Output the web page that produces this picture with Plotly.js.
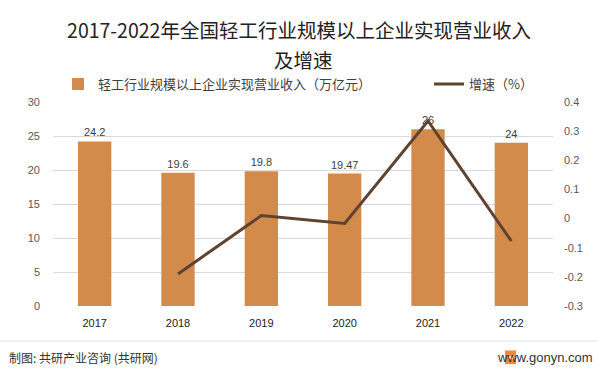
<!DOCTYPE html>
<html>
<head>
<meta charset="utf-8">
<script src="https://cdn.plot.ly/plotly-3.0.1.min.js"></script>
<style>html,body{margin:0;padding:0;background:#fff;}#chart{width:598px;height:373px;}</style>
</head>
<body>
<div id="chart"></div>
<script>
const years = ['2017', '2018', '2019', '2020', '2021', '2022'];
const revenue = [24.2, 19.6, 19.8, 19.47, 26, 24];
const revenueLabels = ['24.2', '19.6', '19.8', '19.47', '26', '24'];
const growth = [null, -0.19, 0.0102, -0.0167, 0.335, -0.077];
const leftTicks = [0, 5, 10, 15, 20, 25, 30];
const rightTicks = [-0.3, -0.2, -0.1, 0, 0.1, 0.2, 0.3, 0.4];
const rightTickText = ['-0.3', '-0.2', '-0.1', '0', '0.1', '0.2', '0.3', '0.4'];

const CJK = '"Noto Sans CJK SC", "Liberation Sans", sans-serif';
const NUM = '"Liberation Sans", "Noto Sans CJK SC", sans-serif';

const traces = [
  {
    type: 'bar', x: years, y: revenue, name: '轻工行业规模以上企业实现营业收入（万亿元）',
    marker: {color: '#D38B4C'}, width: 0.4, legend: 'legend',
    text: revenueLabels, textposition: 'outside', cliponaxis: false,
    textfont: {family: NUM, size: 11, color: '#404040'},
    hoverinfo: 'x+y'
  },
  {
    type: 'scatter', mode: 'lines', x: years, y: growth, yaxis: 'y2', name: '增速（%）',
    line: {color: '#5E4330', width: 3}, connectgaps: false, legend: 'legend2'
  }
];

const legendBase = {
  orientation: 'h', xanchor: 'left', y: 1.088, yanchor: 'middle',
  font: {family: CJK, size: 13, color: '#404040'},
  itemwidth: 30, bgcolor: 'rgba(0,0,0,0)'
};

const layout = {
  width: 598, height: 373,
  margin: {l: 53, r: 45, t: 102, b: 67},
  paper_bgcolor: '#ffffff', plot_bgcolor: '#ffffff',
  font: {family: CJK, color: '#404040'},
  showlegend: true,
  title: {
    text: '2017-2022年全国轻工行业规模以上企业实现营业收入',
    font: {family: CJK, size: 19.5, color: '#222222'},
    x: 0.5, xanchor: 'center', y: 0.916, yanchor: 'middle'
  },
  legend: Object.assign({}, legendBase, {x: 0.01}),
  legend2: Object.assign({}, legendBase, {x: 0.752}),
  bargap: 0.6,
  xaxis: {
    type: 'category', showgrid: false, showline: false, zeroline: false,
    ticks: '', tickfont: {family: NUM, size: 11, color: '#222222'}, ticklabelstandoff: 9
  },
  yaxis: {
    range: [0, 30], tickvals: leftTicks, showgrid: true, gridcolor: '#D9D9D9', gridwidth: 1,
    zeroline: false, showline: false, ticks: '',
    tickfont: {family: NUM, size: 11, color: '#595959'}, ticklabelstandoff: 12
  },
  yaxis2: {
    overlaying: 'y', side: 'right', range: [-0.3, 0.4], tickvals: rightTicks, ticktext: rightTickText,
    showgrid: false, zeroline: false, showline: false, ticks: '',
    tickfont: {family: NUM, size: 11, color: '#595959'}, ticklabelstandoff: 10
  },
  annotations: [
    {xref: 'paper', yref: 'paper', x: 0.5, y: 1.207, xanchor: 'center', yanchor: 'middle',
     text: '及增速', showarrow: false, font: {family: CJK, size: 19.5, color: '#222222'}},
    {xref: 'paper', yref: 'paper', x: -0.092, y: -0.25, xanchor: 'left', yanchor: 'middle',
     text: '制图: 共研产业咨询 (共研网)', showarrow: false, font: {family: CJK, size: 12, color: '#333333'}},
    {xref: 'paper', yref: 'paper', x: 1.084, y: -0.25, xanchor: 'right', yanchor: 'middle',
     text: 'www.gonyn.com', showarrow: false, font: {family: '"Liberation Sans", sans-serif', size: 13, color: '#333333'}}
  ],
  shapes: [
    {type: 'line', xref: 'paper', yref: 'paper', x0: -0.106, x1: 1.09, y0: -0.1716, y1: -0.1716,
     line: {color: '#E3E3E3', width: 1}},
    {type: 'rect', xref: 'paper', yref: 'paper', x0: 0.904, x1: 0.926, y0: -0.285, y1: -0.218,
     fillcolor: '#F08A3C', line: {width: 0}},
    {type: 'rect', xref: 'paper', yref: 'paper', x0: 0.912, x1: 0.922, y0: -0.262, y1: -0.245,
     fillcolor: '#ffffff', line: {width: 0}}
  ]
};

Plotly.newPlot('chart', traces, layout, {displayModeBar: false, staticPlot: true});
</script>
</body>
</html>
